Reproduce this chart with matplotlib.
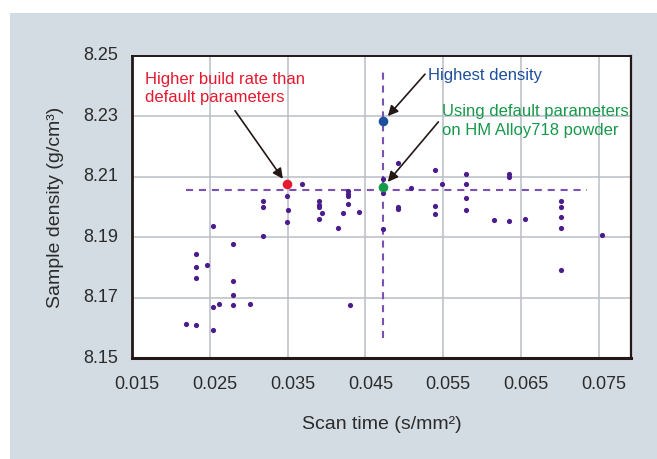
import matplotlib
matplotlib.use("Agg")
import matplotlib.pyplot as plt
import matplotlib.transforms as mtransforms
from matplotlib.patches import Rectangle

plt.rcParams['font.family'] = ['Liberation Sans', 'DejaVu Sans']

# ---- data ----
scan_time = [0.0219, 0.0232, 0.0254, 0.0254, 0.0262, 0.0280, 0.0302, 0.0280, 0.0280,
             0.0232, 0.0232, 0.0246, 0.0232, 0.0280, 0.0254, 0.0319, 0.0319, 0.0319,
             0.0349, 0.0351, 0.0349, 0.0369, 0.0391, 0.0391, 0.0391, 0.0394, 0.0391,
             0.0415, 0.0421, 0.0428, 0.0428, 0.0428, 0.0428, 0.0442, 0.0430, 0.0473,
             0.0473, 0.0473, 0.0492, 0.0492, 0.0492, 0.0509, 0.0539, 0.0539, 0.0539,
             0.0548, 0.0579, 0.0579, 0.0579, 0.0579, 0.0615, 0.0634, 0.0634, 0.0634,
             0.0655, 0.0701, 0.0701, 0.0701, 0.0701, 0.0701, 0.0754]
density = [8.1613, 8.1610, 8.1592, 8.1671, 8.1678, 8.1676, 8.1680, 8.1710, 8.1757,
           8.1765, 8.1802, 8.1807, 8.1846, 8.1879, 8.1936, 8.1905, 8.1999, 8.2020,
           8.1950, 8.1990, 8.2037, 8.2078, 8.2020, 8.2008, 8.2000, 8.1982, 8.1962,
           8.1932, 8.1980, 8.2052, 8.2045, 8.2037, 8.2009, 8.1984, 8.1676, 8.2092,
           8.2048, 8.1928, 8.2147, 8.2000, 8.1995, 8.2065, 8.2124, 8.2004, 8.1978,
           8.2077, 8.2111, 8.2078, 8.2029, 8.1991, 8.1958, 8.2109, 8.2100, 8.1954,
           8.1962, 8.2020, 8.2000, 8.1966, 8.1932, 8.1791, 8.1909]

higher_rate = (0.0349, 8.2075)
highest_density = (0.0473, 8.2284)
default_params = (0.0473, 8.2066)

ref_density = 8.2056          # horizontal reference line
ref_density_span = (0.0220, 0.07344)
ref_scan = 0.0473             # vertical reference line
ref_scan_span = (8.1567, 8.246)

x_ticks = [0.015, 0.025, 0.035, 0.045, 0.055, 0.065, 0.075]
y_ticks = [8.15, 8.17, 8.19, 8.21, 8.23, 8.25]

# ---- colours ----
bg = '#d4dce3'
dot_c = '#4b1d8c'
dash_c = '#7b52b4'
red = '#e5192f'
blue = '#1d4f9c'
green = '#17994b'
arrow_c = '#231815'
text_c = '#2b2b2b'

fig = plt.figure(figsize=(6.57, 4.59), dpi=100, facecolor='white')
fig.patches.append(Rectangle((10 / 657, 0), 1 - 10 / 657, 1 - 13 / 459,
                             transform=fig.transFigure, facecolor=bg,
                             edgecolor='none', zorder=-10))

ax = fig.add_axes([132 / 657, 1 - 358.3 / 459, (630.7 - 132) / 657, (358.3 - 56) / 459])
ax.set_facecolor('white')
ax.set_xlim(0.015, 0.0791)
ax.set_ylim(8.15, 8.25)
ax.set_xticks(x_ticks)
ax.set_yticks(y_ticks)
ax.set_xticklabels([f'{v:.3f}' for v in x_ticks])
ax.set_yticklabels([f'{v:.2f}' for v in y_ticks])
ax.tick_params(length=0, labelsize=13, colors=text_c)
ax.tick_params(axis='x', pad=13)
ax.tick_params(axis='y', pad=10)
off = mtransforms.ScaledTranslation(5 / 100, 0, fig.dpi_scale_trans)
for lab in ax.get_xticklabels():
    lab.set_transform(lab.get_transform() + off)
offy = mtransforms.ScaledTranslation(0, 2 / 100, fig.dpi_scale_trans)
for lab in ax.get_yticklabels():
    lab.set_transform(lab.get_transform() + offy)

ax.grid(True, color='#b9bdc6', linewidth=1.1)
ax.set_axisbelow(True)
for side, lw in [('left', 2.0), ('bottom', 2.2), ('top', 1.4), ('right', 1.6)]:
    ax.spines[side].set_color('#231815')
    ax.spines[side].set_linewidth(lw)

# reference dashed lines
ax.plot(ref_density_span, [ref_density, ref_density], color=dash_c, lw=1.5,
        dashes=(3.4, 2.8), zorder=2)
ax.plot([ref_scan, ref_scan], ref_scan_span, color=dash_c, lw=1.5,
        dashes=(3.4, 2.8), zorder=2)

ax.scatter(scan_time, density, s=14, color=dot_c, zorder=3, linewidths=0)
ax.scatter(*higher_rate, s=48, color=red, zorder=4, linewidths=0)
ax.scatter(*highest_density, s=48, color=blue, zorder=4, linewidths=0)
ax.scatter(*default_params, s=48, color=green, zorder=4, linewidths=0)

# annotations
ax.text(0.01667, 8.2392, 'Higher build rate than\ndefault parameters', color=red,
        fontsize=12, va='center', ha='left', linespacing=1.3)
ax.text(0.05309, 8.2437, 'Highest density', color=blue, fontsize=12,
        va='center', ha='left')
ax.text(0.05481, 8.2286, 'Using default parameters\non HM Alloy718 powder', color=green,
        fontsize=12, va='center', ha='left', linespacing=1.35)

ap = dict(arrowstyle='-|>', color=arrow_c, lw=1.2, mutation_scale=15,
          shrinkA=0, shrinkB=5)
ax.annotate('', xy=higher_rate, xytext=(0.02824, 8.2319), arrowprops=ap)
ax.annotate('', xy=highest_density, xytext=(0.05266, 8.2440), arrowprops=ap)
ax.annotate('', xy=default_params, xytext=(0.05438, 8.2282), arrowprops=ap)

ax.set_xlabel('Scan time (s/mm²)', fontsize=14, color=text_c, labelpad=16)
ax.set_ylabel('Sample density (g/cm³)', fontsize=14, color=text_c, labelpad=14)

fig.savefig('out.png', dpi=100, facecolor=fig.get_facecolor())
